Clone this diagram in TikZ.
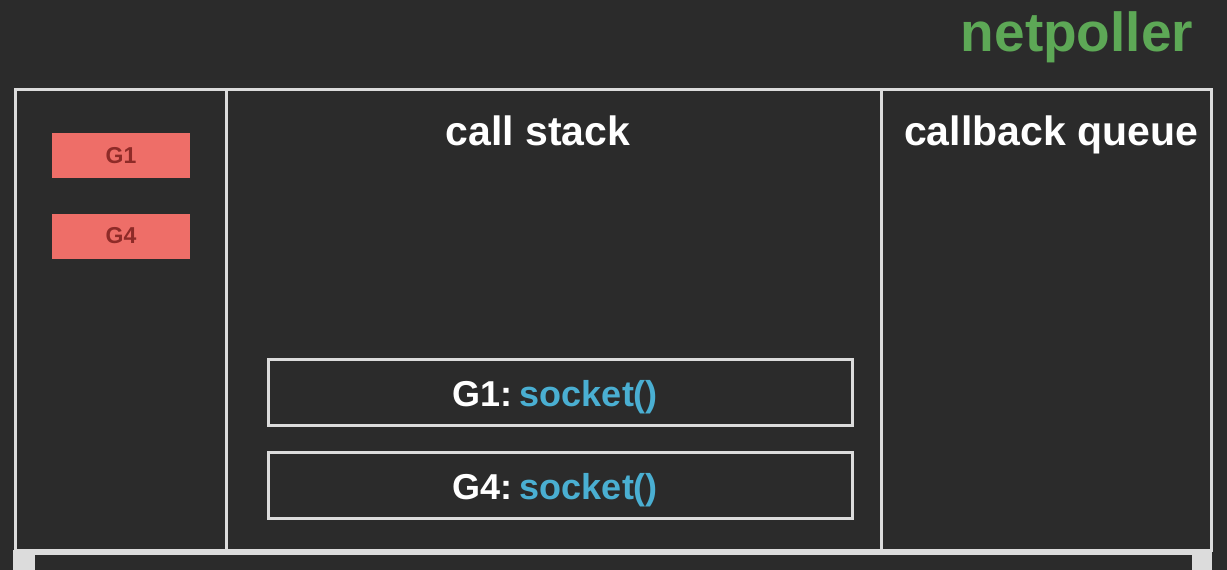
\documentclass[tikz,border=0pt]{standalone}
\usepackage{fontspec}
\setmainfont{Liberation Sans}
\definecolor{bg}{HTML}{2B2B2B}
\definecolor{frame}{HTML}{DCDCDC}
\definecolor{gred}{HTML}{EE6E68}
\definecolor{gredtext}{HTML}{8E2B28}
\definecolor{npgreen}{HTML}{5DA856}
\definecolor{fnblue}{HTML}{4AAFD2}
\tikzset{
  frameline/.style={draw=frame, line width=3pt},
  gbox/.style={rectangle, fill=gred, minimum width=138pt, minimum height=45pt, inner sep=0pt,
    text=gredtext, font=\bfseries\fontsize{23}{27}\selectfont},
  stackbox/.style={rectangle, draw=frame, line width=3pt, minimum width=584pt, minimum height=66pt,
    inner sep=0pt},
  stacktext/.style={text=white, font=\bfseries\fontsize{36}{42}\selectfont, anchor=base, inner sep=0pt},
  title/.style={text=white, font=\bfseries\fontsize{41}{48}\selectfont, inner sep=0pt, anchor=base},
}
\begin{document}
\begin{tikzpicture}[x=1pt,y=-1pt]
\fill[bg] (0,0) rectangle (1227,570);
\useasboundingbox (0,0) rectangle (1227,570);
% lower partial box
\fill[frame] (13,550) rectangle (1212,570);
\fill[bg] (35,555) rectangle (1192,571);
% main frame
\draw[frameline] (15,89) rectangle (1211,550);
\draw[frameline] (226,89) -- (226,550);
\draw[frameline] (881,89) -- (881,550);
% titles
\node[inner sep=0pt, anchor=base, text=npgreen, font=\bfseries\fontsize{55}{62}\selectfont] (np) at (1077,51) {netpoller};
\node[title] (cs) at (538,145) {call stack};
\node[title] (cq) at (1051,145) {callback queue};
% goroutines
\node[gbox] (g1) at (121,155.5) {G1};
\node[gbox] (g4) at (121,236) {G4};
% stack frames
\node[stackbox] (s1) at (560,392.5) {};
\node[stacktext] (t1) at (555,406) {G1:\hspace{0.22em}\textcolor{fnblue}{socket()}};
\node[stackbox] (s4) at (560,485) {};
\node[stacktext] (t4) at (555,499) {G4:\hspace{0.22em}\textcolor{fnblue}{socket()}};
\end{tikzpicture}
\end{document}
